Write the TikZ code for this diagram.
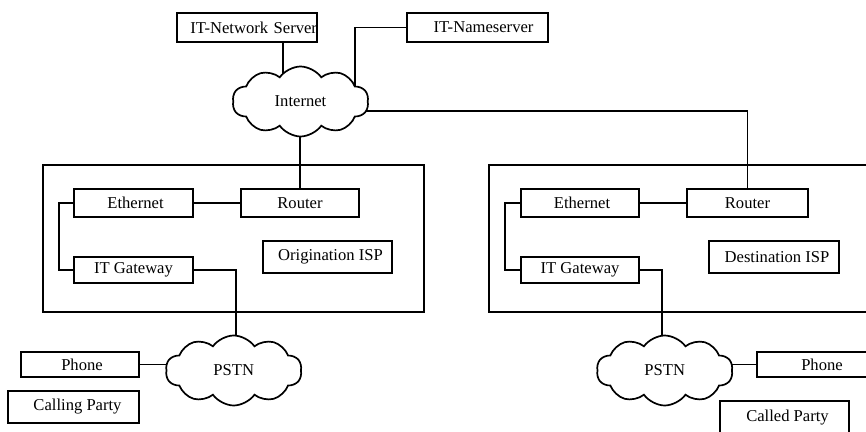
\documentclass[tikz,border=0pt]{standalone}
\usepackage{fontspec}
\setmainfont{Liberation Serif}
\usetikzlibrary{shapes.symbols,backgrounds}
\begin{document}
\begin{tikzpicture}[x=1pt,y=-1pt,
  every node/.style={font=\fontsize{16.6}{19}\selectfont},
  box/.style={draw,line width=1.7pt,inner sep=0pt,rectangle},
  isp/.style={draw,line width=1.7pt,inner sep=0pt,rectangle},
  net/.style={cloud,cloud puffs=10,cloud puff arc=110,aspect=2,draw,fill=white,
    line width=1.7pt,inner sep=0pt,minimum width=136pt,minimum height=70pt},
  wire/.style={line width=1.7pt}]
\useasboundingbox (0,0) rectangle (866,431);
\clip (0,0) rectangle (866,431);
% \sh{d}: moves a label d pt right of its box centre
\newcommand\sh[1]{\hspace*{#1pt}\hspace*{#1pt}}

% top servers
\node[box,text width=140pt,align=right,minimum height=29pt] (netsrv) at (247,27.5) {IT-Network Server};
\node[box,minimum width=141pt,minimum height=29pt] (namesrv) at (477.5,27.5) {\sh{6}IT-Nameserver};

% provider boundaries
\node[isp,minimum width=381pt,minimum height=147pt] (ispL) at (233.5,238.5) {};
\node[isp,minimum width=381pt,minimum height=147pt] (ispR) at (679.5,238.5) {};

% origination side
\node[box,minimum width=119pt,minimum height=28pt] (ethL) at (133.5,203) {\sh{2}Ethernet};
\node[box,minimum width=118pt,minimum height=28pt] (rtL) at (300,203) {Router};
\node[box,minimum width=129pt,minimum height=32pt] (origin) at (327.5,257) {\sh{3}Origination ISP};
\node[box,minimum width=119pt,minimum height=26pt] (gwL) at (133.5,270) {IT Gateway};

% destination side
\node[box,minimum width=118pt,minimum height=28pt] (ethR) at (580,203) {\sh{2}Ethernet};
\node[box,minimum width=121pt,minimum height=28pt] (rtR) at (747.5,203) {Router};
\node[box,minimum width=130pt,minimum height=32pt] (dest) at (774,257) {\sh{3}Destination ISP};
\node[box,minimum width=118pt,minimum height=26pt] (gwR) at (580,270) {IT Gateway};

% telephones and parties
\node[box,minimum width=118pt,minimum height=25pt] (phL) at (80,364.5) {\sh{2}Phone};
\node[box,minimum width=131pt,minimum height=32pt] (caller) at (73.5,407) {\sh{4}Calling Party};
\node[box,minimum width=130pt,minimum height=25pt] (phR) at (822,364.5) {Phone};
\node[box,minimum width=129pt,minimum height=34pt] (callee) at (784.5,418) {\sh{3}Called Party};

% clouds
\node[net] (inet) at (300.5,101.5) {Internet};
\node[net] (pstnL) at (233.7,370.5) {PSTN};
\node[net] (pstnR) at (664.7,370.5) {PSTN};

% links run underneath the white clouds
\begin{pgfonlayer}{background}
  \draw[wire] (netsrv.south -| 283,0) -- (283,101.5);
  \draw[wire] (namesrv.west) -| (355,101.5);
  \draw[wire] (300,101.5) -- (rtL.north);
  \draw[wire] (inet.center |- 0,111) -| (rtR.north);
  \draw[wire] (ethL.east) -- (rtL.west);
  \draw[wire] (ethL.west) -| (59.3,270) -- (gwL.west);
  \draw[wire] (gwL.east) -| (235.7,370.5);
  \draw[wire] (ethR.east) -- (rtR.west);
  \draw[wire] (ethR.west) -| (505.3,270) -- (gwR.west);
  \draw[wire] (gwR.east) -| (661.7,370.5);
  \draw[wire] (phL.east) -- (phL.east -| pstnL.center);
  \draw[wire] (phR.west) -- (phR.west -| pstnR.center);
\end{pgfonlayer}
\end{tikzpicture}
\end{document}
